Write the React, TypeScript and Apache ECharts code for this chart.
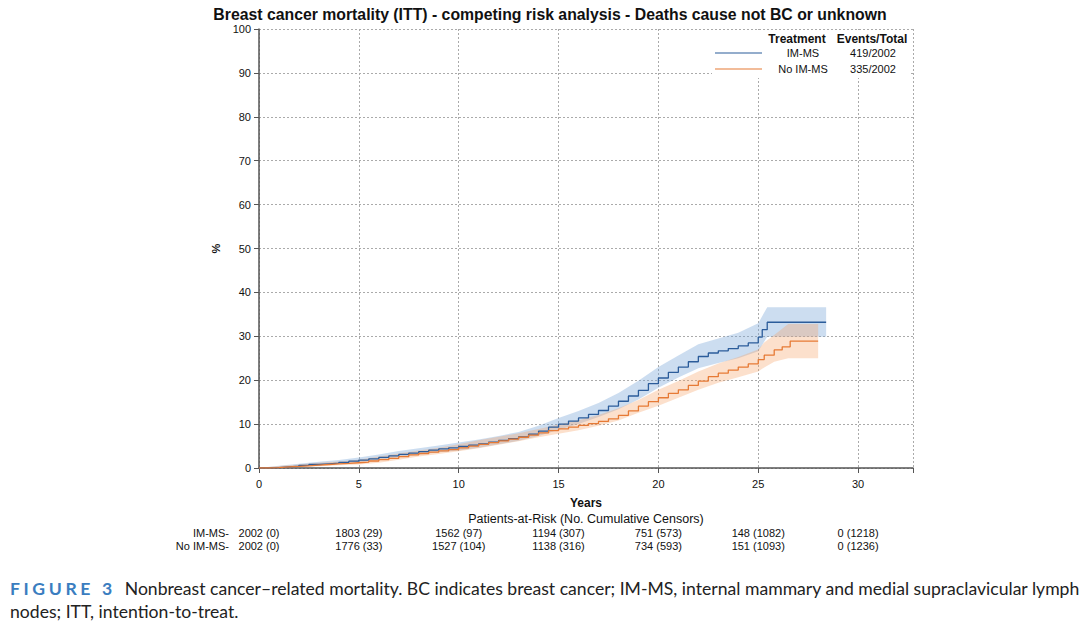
import React, { useEffect, useRef } from "react";
import * as echarts from "echarts";

// IM-MS cumulative incidence (%), stepped
const immsTimes = [0, 0.5, 1, 1.5, 2, 2.5, 3, 3.5, 4, 4.5, 5, 5.5, 6, 6.5, 7, 7.5, 8, 8.5, 9, 9.5, 10, 10.5, 11, 11.5, 12, 12.5, 13, 13.5, 14, 14.5, 15, 15.5, 16, 16.5, 17, 17.5, 18, 18.5, 19, 19.5, 20, 20.5, 21, 21.5, 22, 22.5, 23, 23.5, 24, 24.5, 25, 25.2, 25.45, 28.4];
const immsValues = [0, 0.1, 0.25, 0.4, 0.6, 0.8, 0.95, 1.1, 1.3, 1.55, 1.8, 2.1, 2.4, 2.75, 3.1, 3.4, 3.75, 4.05, 4.35, 4.6, 4.9, 5.2, 5.5, 5.9, 6.3, 6.7, 7.1, 7.7, 8.4, 9.3, 10.0, 10.7, 11.4, 12.2, 13.1, 14.1, 15.2, 16.4, 17.7, 19.2, 20.5, 21.8, 23.0, 24.2, 25.4, 26.2, 26.7, 27.2, 27.8, 28.5, 29.8, 31.5, 33.2, 33.2];

// No IM-MS cumulative incidence (%)
const noImmsTimes = [0, 0.5, 1, 1.5, 2, 2.5, 3, 3.5, 4, 4.5, 5, 5.5, 6, 6.5, 7, 7.5, 8, 8.5, 9, 9.5, 10, 10.5, 11, 11.5, 12, 12.5, 13, 13.5, 14, 14.5, 15, 15.5, 16, 16.5, 17, 17.5, 18, 18.5, 19, 19.5, 20, 20.5, 21, 21.5, 22, 22.5, 23, 23.5, 24, 24.5, 25, 25.3, 25.8, 26.2, 26.6, 28.0];
const noImmsValues = [0, 0.1, 0.25, 0.35, 0.5, 0.65, 0.8, 0.95, 1.05, 1.2, 1.35, 1.6, 1.9, 2.2, 2.6, 3.0, 3.3, 3.6, 3.9, 4.2, 4.6, 5.0, 5.4, 5.8, 6.2, 6.6, 7.0, 7.5, 8.0, 8.5, 8.9, 9.3, 9.7, 10.1, 10.6, 11.2, 12.0, 13.0, 14.1, 15.1, 16.0, 17.0, 17.8, 18.8, 19.8, 20.8, 21.6, 22.3, 23.0, 23.7, 24.7, 25.7, 26.9, 27.6, 28.9, 28.9];

// confidence bands
const immsBandTimes = [0, 1, 2, 3, 4, 5, 6, 7, 8, 9, 10, 11, 12, 13, 14, 15, 16, 17, 18, 19, 20, 21, 22, 23, 24, 25, 25.45, 28.4];
const immsLower = [0, 0.05, 0.3, 0.6, 0.9, 1.3, 1.8, 2.5, 3.1, 3.6, 4.0, 4.6, 5.4, 6.2, 7.3, 8.7, 10.0, 11.6, 13.4, 15.6, 18.3, 20.6, 22.7, 23.9, 25.0, 26.6, 29.9, 29.9];
const immsUpper = [0, 0.5, 0.95, 1.4, 1.8, 2.4, 3.1, 3.9, 4.5, 5.1, 5.8, 6.5, 7.3, 8.2, 9.6, 11.4, 13.0, 14.8, 17.1, 19.9, 23.0, 25.6, 28.2, 29.5, 30.8, 33.0, 36.6, 36.6];

const noImmsBandTimes = [0, 1, 2, 3, 4, 5, 6, 7, 8, 9, 10, 11, 12, 13, 14, 15, 16, 17, 18, 19, 20, 21, 22, 23, 24, 25, 25.3, 25.8, 26.5, 28.0];
const noImmsLower = [0, 0.05, 0.2, 0.4, 0.6, 0.8, 1.2, 1.9, 2.6, 3.2, 3.8, 4.5, 5.3, 6.1, 7.0, 7.8, 8.6, 9.6, 10.8, 12.6, 14.2, 16.0, 17.8, 19.4, 20.7, 22.0, 22.9, 24.2, 25.0, 25.0];
const noImmsUpper = [0, 0.45, 0.8, 1.2, 1.5, 1.9, 2.6, 3.3, 4.0, 4.6, 5.4, 6.3, 7.1, 7.9, 8.9, 9.9, 10.9, 12.1, 13.6, 15.5, 17.8, 19.8, 22.0, 23.8, 25.3, 27.0, 28.6, 30.3, 32.8, 32.8];

// patients-at-risk table
const riskYears = [0, 5, 10, 15, 20, 25, 30];
const immsAtRisk = ["2002 (0)", "1803 (29)", "1562 (97)", "1194 (307)", "751 (573)", "148 (1082)", "0 (1218)"];
const noImmsAtRisk = ["2002 (0)", "1776 (33)", "1527 (104)", "1138 (316)", "734 (593)", "151 (1093)", "0 (1236)"];

const legendRows = [
  { name: "IM-MS", events: "419/2002", color: "#2b5c9a" },
  { name: "No IM-MS", events: "335/2002", color: "#e67a35" },
];

const FONT = "'Liberation Sans', Arial, sans-serif";
const NARROW = "'Liberation Sans Narrow', 'Liberation Sans', Arial, sans-serif";

const zip = (t: number[], v: number[]) => t.map((x, i) => [x, v[i]]);

// band drawn as a polygon through the axis scales
function bandSeries(times: number[], lower: number[], upper: number[], fill: string) {
  return {
    type: "custom",
    silent: true,
    clip: true,
    data: [[0]],
    z: 1,
    renderItem: (_params: any, api: any) => {
      const pts: number[][] = [];
      for (let i = 0; i < times.length; i++) pts.push(api.coord([times[i], upper[i]]));
      for (let i = times.length - 1; i >= 0; i--) pts.push(api.coord([times[i], lower[i]]));
      return { type: "polygon", shape: { points: pts }, style: { fill } };
    },
  };
}

const riskAxis = (labels: string[], offset: number) => ({
  type: "value",
  min: 0,
  max: 32.75,
  interval: 5,
  position: "bottom",
  offset,
  axisLine: { show: false },
  axisTick: { show: false },
  splitLine: { show: false },
  axisLabel: {
    margin: 0,
    verticalAlign: "middle",
    fontFamily: NARROW,
    fontSize: 11,
    color: "#111",
    formatter: (v: number) => {
      const i = riskYears.indexOf(v);
      return i >= 0 ? labels[i] : "";
    },
  },
});

export default function App() {
  const ref = useRef<HTMLDivElement>(null);

  useEffect(() => {
    document.body.style.margin = "0";
    if (!ref.current) return;
    const chart = echarts.init(ref.current, null, { renderer: "svg" });

    const legendGraphics: any[] = [
      { type: "rect", z: 100, shape: { x: 712, y: 30, width: 199, height: 48 }, style: { fill: "#fff" } },
      { type: "text", z: 101, x: 797, y: 39, style: { text: "Treatment", font: `bold 12px ${FONT}`, fill: "#111", align: "center", verticalAlign: "middle" } },
      { type: "text", z: 101, x: 872, y: 39, style: { text: "Events/Total", font: `bold 12px ${FONT}`, fill: "#111", align: "center", verticalAlign: "middle" } },
    ];
    legendRows.forEach((r, i) => {
      const y = 53 + i * 16;
      legendGraphics.push(
        { type: "line", z: 101, shape: { x1: 715, y1: y, x2: 762, y2: y }, style: { stroke: r.color, lineWidth: 1.2 } },
        { type: "text", z: 101, x: 803, y, style: { text: r.name, font: `11px ${NARROW}`, fill: "#111", align: "center", verticalAlign: "middle" } },
        { type: "text", z: 101, x: 873, y, style: { text: r.events, font: `11px ${NARROW}`, fill: "#111", align: "center", verticalAlign: "middle" } }
      );
    });

    chart.setOption({
      animation: false,
      title: {
        text: "Breast cancer mortality (ITT) - competing risk analysis - Deaths cause not BC or unknown",
        left: 545,
        textAlign: "center",
        top: 1,
        textStyle: { fontFamily: FONT, fontSize: 15.8, fontWeight: "bold", color: "#111" },
      },
      grid: { left: 259, right: 167, top: 29, bottom: 160 },
      xAxis: [
        {
          type: "value",
          min: 0,
          max: 32.75,
          interval: 5,
          name: "Years",
          nameLocation: "middle",
          nameGap: 29,
          nameTextStyle: { fontFamily: FONT, fontSize: 12, fontWeight: "bold", color: "#111" },
          axisLine: { lineStyle: { color: "#555", width: 1.5 } },
          axisTick: { length: 5, lineStyle: { color: "#555" } },
          axisLabel: {
            fontFamily: FONT,
            fontSize: 11,
            color: "#111",
            margin: 10,
            formatter: (v: number) => (v % 5 === 0 ? String(v) : ""),
          },
          splitLine: { show: true, lineStyle: { color: "#aaa", type: [2, 2], width: 1 } },
        },
        riskAxis(immsAtRisk, 65),
        riskAxis(noImmsAtRisk, 78),
      ],
      yAxis: {
        type: "value",
        min: 0,
        max: 100,
        interval: 10,
        name: "%",
        nameLocation: "middle",
        nameGap: 31,
        nameRotate: 90,
        nameTextStyle: { fontFamily: FONT, fontSize: 11, fontWeight: "bold", color: "#111" },
        axisLine: { show: true, lineStyle: { color: "#555", width: 1.5 } },
        axisTick: { show: true, length: 5, lineStyle: { color: "#555" } },
        axisLabel: { fontFamily: FONT, fontSize: 11, color: "#111", margin: 8 },
        splitLine: { show: true, lineStyle: { color: "#aaa", type: [2, 2], width: 1 } },
      },
      series: [
        bandSeries(immsBandTimes, immsLower, immsUpper, "rgba(120,165,215,0.38)"),
        bandSeries(noImmsBandTimes, noImmsLower, noImmsUpper, "rgba(245,160,100,0.33)"),
        {
          type: "line",
          name: "IM-MS",
          step: "end",
          showSymbol: false,
          data: zip(immsTimes, immsValues),
          lineStyle: { color: legendRows[0].color, width: 1.3 },
          z: 3,
        },
        {
          type: "line",
          name: "No IM-MS",
          step: "end",
          showSymbol: false,
          data: zip(noImmsTimes, noImmsValues),
          lineStyle: { color: legendRows[1].color, width: 1.3 },
          z: 3,
        },
      ],
      graphic: [
        ...legendGraphics,
        {
          type: "text",
          x: 586,
          y: 519,
          style: { text: "Patients-at-Risk (No. Cumulative Censors)", font: `12.5px ${FONT}`, fill: "#111", align: "center", verticalAlign: "middle" },
        },
        { type: "text", x: 229, y: 533, style: { text: "IM-MS-", font: `11px ${NARROW}`, fill: "#111", align: "right", verticalAlign: "middle" } },
        { type: "text", x: 229, y: 546, style: { text: "No IM-MS-", font: `11px ${NARROW}`, fill: "#111", align: "right", verticalAlign: "middle" } },
      ],
    });

    return () => chart.dispose();
  }, []);

  return (
    <div style={{ position: "relative", width: 1080, height: 628, background: "#fff" }}>
      <div ref={ref} style={{ width: 1080, height: 628 }} />
      <div
        style={{
          position: "absolute",
          left: 10,
          top: 577,
          fontFamily: "Lato, 'Open Sans', sans-serif",
          fontSize: 17.6,
          lineHeight: "23px",
          color: "#222",
          whiteSpace: "nowrap",
        }}
      >
        <div>
          <span style={{ color: "#3a7dc0", fontWeight: "bold", letterSpacing: 3.6, marginRight: 9 }}>FIGURE 3</span>
          Nonbreast cancer–related mortality. BC indicates breast cancer; IM-MS, internal mammary and medial supraclavicular lymph
        </div>
        <div>nodes; ITT, intention-to-treat.</div>
      </div>
    </div>
  );
}
